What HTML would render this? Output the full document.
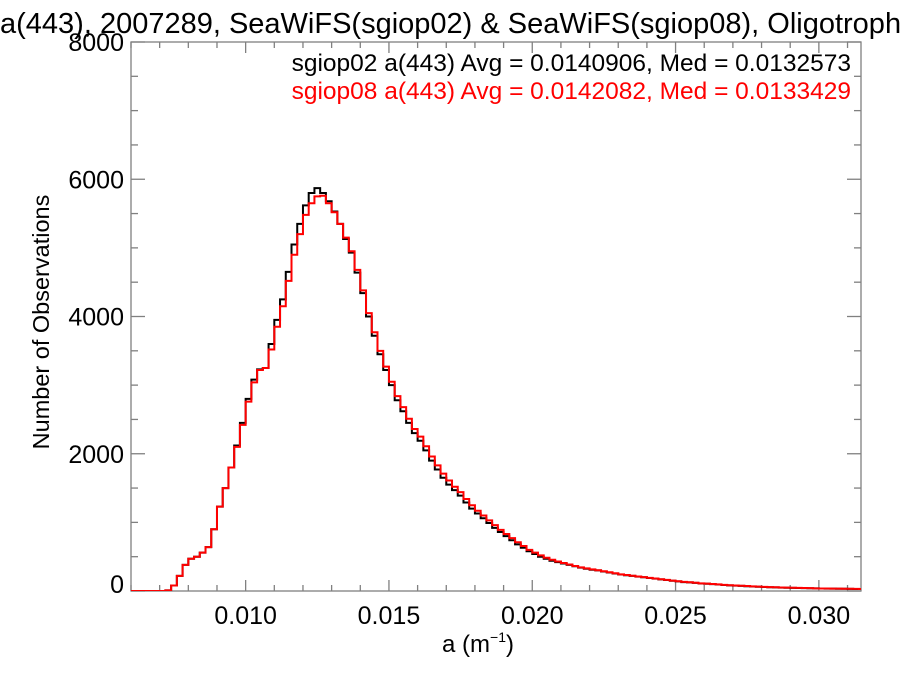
<!DOCTYPE html>
<html><head><meta charset="utf-8"><style>
html,body{margin:0;padding:0;background:#fff;}
svg text{font-family:"Liberation Sans",Arial,sans-serif;}
</style></head><body>
<svg id="chart" width="900" height="675" viewBox="0 0 900 675" xmlns="http://www.w3.org/2000/svg">
<text x="0" y="33" font-size="29" fill="#000">a(443), 2007289, SeaWiFS(sgiop02) &amp; SeaWiFS(sgiop08), Oligotrophic</text>
<g id="axes"></g>
<g id="series"></g>
<text x="851" y="71" font-size="24.5" text-anchor="end" fill="#000">sgiop02 a(443) Avg = 0.0140906, Med = 0.0132573</text>
<text x="851" y="99" font-size="24.5" text-anchor="end" fill="#ff0000">sgiop08 a(443) Avg = 0.0142082, Med = 0.0133429</text>
<text transform="translate(49,322) rotate(-90)" font-size="23.5" text-anchor="middle" fill="#000">Number of Observations</text>
<text x="478" y="652" font-size="24" text-anchor="middle" fill="#000">a (m<tspan font-size="14" dy="-10">−1</tspan><tspan dy="10">)</tspan></text>
</svg>
<script>
const binStart = 0.006;
const binWidth = 0.0002;
const sgiop02 = [0,0,0,0,0,0,10,80,220,380,470,500,560,640,900,1230,1500,1800,2120,2450,2800,3080,3230,3250,3600,3950,4250,4650,5050,5350,5620,5800,5870,5800,5680,5530,5350,5130,4930,4640,4340,4000,3720,3450,3220,3000,2780,2620,2450,2300,2190,2050,1900,1770,1650,1550,1470,1390,1290,1200,1130,1060,990,920,860,800,740,680,630,580,540,500,470,440,420,400,380,360,340,325,310,300,285,270,255,240,230,220,210,200,190,180,170,160,150,140,130,125,118,110,105,100,95,88,82,78,74,70,66,62,58,55,52,50,48,46,44,42,40,38,36,35,34,33,32,31,30,29];
const sgiop08 = [0,0,0,0,0,0,10,80,220,380,470,500,560,640,900,1230,1500,1800,2100,2420,2760,3040,3220,3250,3520,3850,4150,4520,4900,5200,5480,5650,5750,5760,5650,5520,5350,5150,4950,4680,4380,4050,3770,3500,3270,3050,2840,2680,2510,2360,2250,2110,1960,1830,1710,1610,1520,1440,1340,1250,1170,1100,1030,960,890,830,770,710,655,600,560,520,485,455,430,408,386,365,345,330,315,303,288,273,258,243,233,223,212,202,192,182,172,162,152,142,133,127,120,112,107,102,97,90,84,80,76,72,68,64,60,57,54,51,49,47,45,43,41,39,37,36,35,34,33,32,31,30];
const xTicks = [0.010,0.015,0.020,0.025,0.030];
const xTickLabels = ["0.010","0.015","0.020","0.025","0.030"];
const yTicks = [0,2000,4000,6000,8000];
const yTickLabels = ["0","2000","4000","6000","8000"];

const L=131,R=861,T=42,B=591;
const xMin=0.006,xMax=0.03147,yMin=0,yMax=8000;
function xs(v){return L+(v-xMin)/(xMax-xMin)*(R-L);}
function ys(v){return B-(v-yMin)/(yMax-yMin)*(B-T);}
const NS="http://www.w3.org/2000/svg";
function mk(tag,attrs,parent){const e=document.createElementNS(NS,tag);for(const k in attrs)e.setAttribute(k,attrs[k]);parent.appendChild(e);return e;}
const axes=document.getElementById('axes');
const frame=mk('rect',{x:L,y:T,width:R-L,height:B-T,fill:'none',stroke:'#808080','stroke-width':1.3},axes);


for(let v=0.006;v<=xMax+1e-9;v+=0.001){
  const major=xTicks.some(t=>Math.abs(t-v)<1e-7);
  const len=major?11:6;const x=xs(v);
  const t1=mk('line',{x1:x,x2:x,y1:B,y2:B-len,stroke:'#808080','stroke-width':1.3},axes);
  
  
  const t2=mk('line',{x1:x,x2:x,y1:T,y2:T+len,stroke:'#808080','stroke-width':1.3},axes);
  
  
}
xTicks.forEach((v,i)=>{
  const t=mk('text',{x:xs(v),y:624,'font-size':25,'text-anchor':'middle',fill:'#000'},axes);
  t.textContent=xTickLabels[i];
  
  
});
for(let v=0;v<=yMax;v+=500){
  const major=v%2000===0;const len=major?14:7;const y=ys(v);
  const t1=mk('line',{x1:L,x2:L+len,y1:y,y2:y,stroke:'#808080','stroke-width':1.3},axes);
  
  
  const t2=mk('line',{x1:R,x2:R-len,y1:y,y2:y,stroke:'#808080','stroke-width':1.3},axes);
  
  
}
yTicks.forEach((v,i)=>{
  const yy=v===0?ys(v)+2:ys(v)+9;
  const t=mk('text',{x:124,y:yy,'font-size':25,'text-anchor':'end',fill:'#000'},axes);
  t.textContent=yTickLabels[i];
  
  
});
const series=document.getElementById('series');
const clip=mk('clipPath',{id:'pc'},series);
mk('rect',{x:L,y:T,width:R-L,height:B-T},clip);
function stepPath(vals){
  let d='M'+xs(binStart)+','+ys(vals[0]);
  vals.forEach((v,i)=>{
    const x0=xs(binStart+i*binWidth),x1=xs(binStart+(i+1)*binWidth);
    d+=' L'+x0+','+ys(v)+' L'+x1+','+ys(v);
  });
  return d;
}
const p1=mk('path',{d:stepPath(sgiop02),fill:'none',stroke:'#000','stroke-width':2,'clip-path':'url(#pc)'},series);


const p2=mk('path',{d:stepPath(sgiop08),fill:'none',stroke:'#ff0000','stroke-width':2,'clip-path':'url(#pc)'},series);


</script>
</body></html>
